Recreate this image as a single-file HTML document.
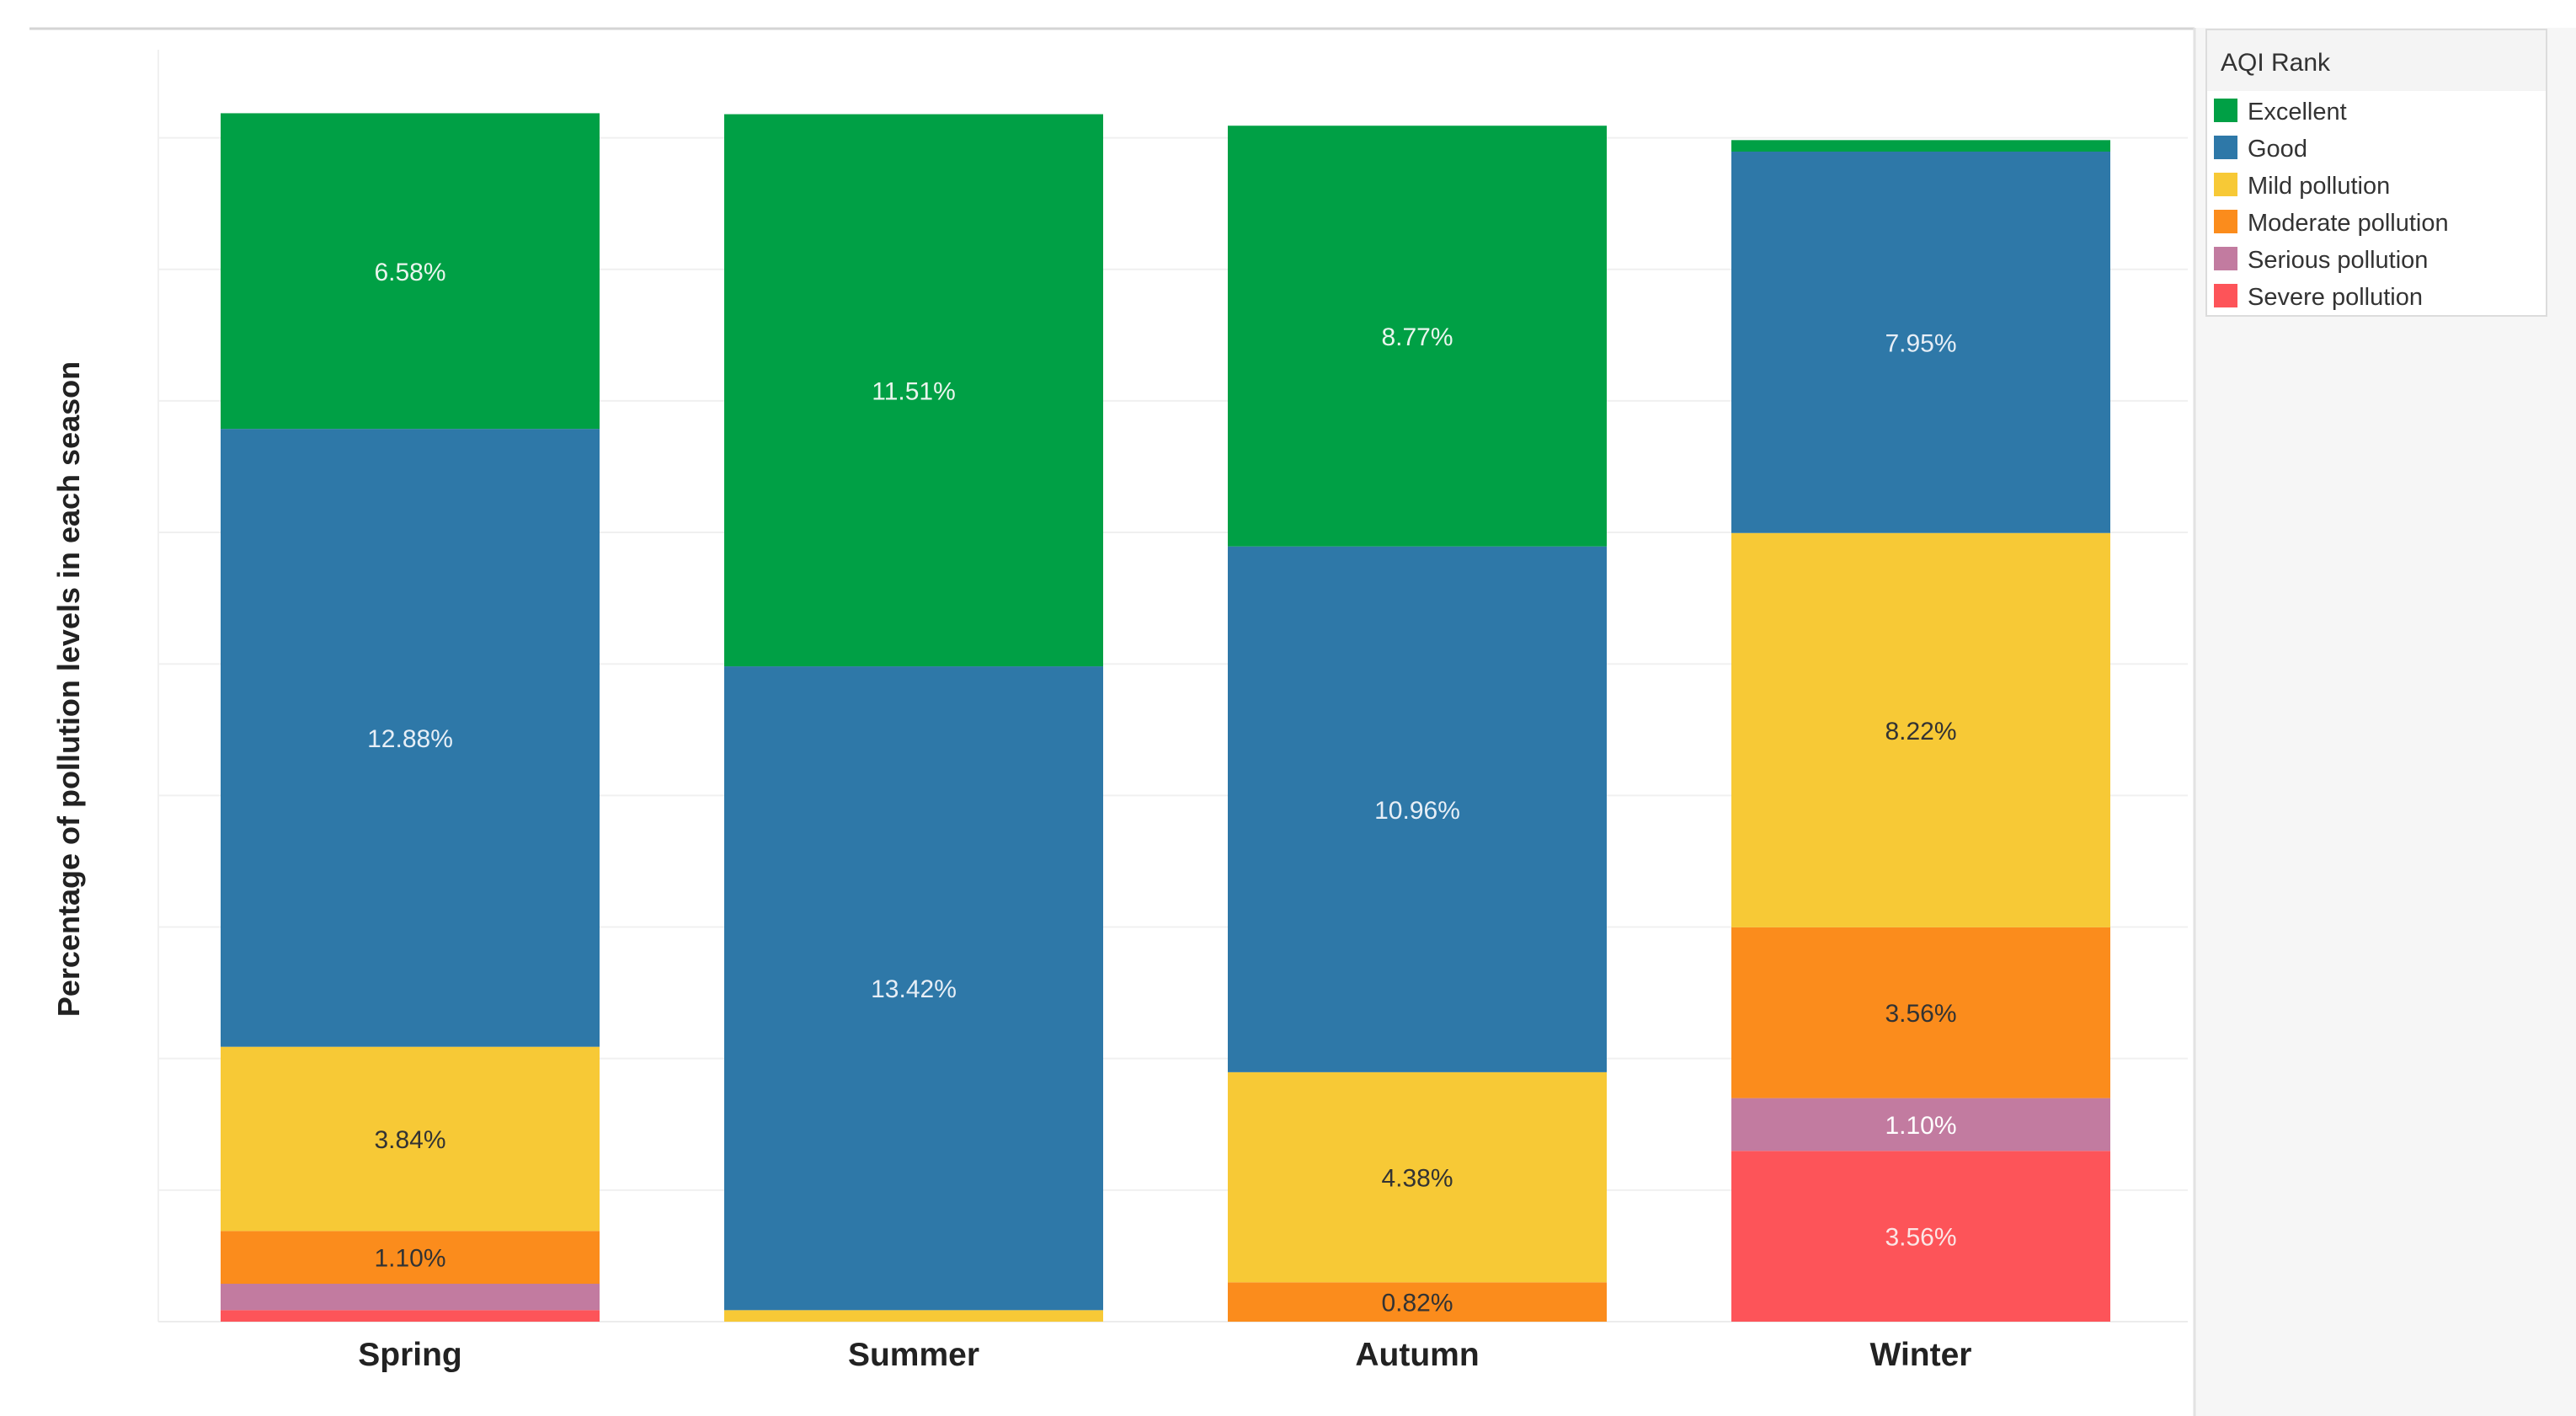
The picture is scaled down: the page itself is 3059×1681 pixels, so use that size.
<!DOCTYPE html>
<html><head><meta charset="utf-8"><style>
html,body{margin:0;padding:0;background:#fff;}
svg{display:block;font-family:"Liberation Sans","DejaVu Sans",sans-serif;}
</style></head><body>
<svg id="chart" width="3059" height="1681" viewBox="0 0 3059 1681">
  <rect x="2606" y="33" width="453" height="1648" fill="#f6f6f6"/>
  <line x1="35" y1="34" x2="2606" y2="34" stroke="#d4d4d4" stroke-width="3"/>
  <line x1="2606" y1="33" x2="2606" y2="1681" stroke="#e2e2e2" stroke-width="3"/>
  <line x1="188" y1="59" x2="188" y2="1569" stroke="#f0f0f0" stroke-width="2"/>
  <g id="grid"></g>
  <g id="bars"></g>
  <g id="xlabels"></g>
  <text x="0" y="0" transform="translate(94,818) rotate(-90)" text-anchor="middle" font-size="36" font-weight="bold" fill="#222">Percentage of pollution levels in each season</text>
  <g>
    <rect x="2620" y="35" width="404" height="340" fill="#fff" stroke="#dcdcdc" stroke-width="2"/>
    <rect x="2621" y="36" width="402" height="72" fill="#f4f4f4"/>
    <text x="2637" y="84" font-size="30" fill="#333">AQI Rank</text>
    <g id="legend-items"></g>
  </g>
</svg>
<script>
const categories = ["Spring","Summer","Autumn","Winter"];
const seriesNames = ["Excellent","Good","Mild pollution","Moderate pollution","Serious pollution","Severe pollution"];
const excellent = [6.58, 11.51, 8.77, 0.24];
const good = [12.88, 13.42, 10.96, 7.95];
const mild = [3.84, 0.24, 4.38, 8.22];
const moderate = [1.10, 0, 0.82, 3.56];
const serious = [0.55, 0, 0, 1.10];
const severe = [0.24, 0, 0, 3.56];
const gridStep = 2.742;

const colors = ["#00a045","#2e78a8","#f7c936","#fb8c1c","#c27ba0","#fd5459"];
const labelColors = ["#eaf5ee","#e6eef6","#333","#333","#fff","#fbe6e6"];
const NS = "http://www.w3.org/2000/svg";
const baseY = 1569, pxPer = 56.95, plotL = 188, plotR = 2598, band = 598, barW = 450;
function y(v){ return baseY - v*pxPer; }
function xc(i){ return plotL + band*i + band/2; }
function mk(tag, attrs, parent){ const e=document.createElementNS(NS,tag); for(const k in attrs) e.setAttribute(k,attrs[k]); parent.appendChild(e); return e; }

const grid = document.getElementById('grid');
for(let g=gridStep; y(g) > 100; g+=gridStep){
  const l = mk('line',{x1:plotL,x2:plotR,y1:y(g),y2:y(g),stroke:'#f0f0f0','stroke-width':2},grid);
  
  
}
const bl = mk('line',{x1:plotL,x2:plotR,y1:baseY,y2:baseY,stroke:'#ececec','stroke-width':2},grid);



const series = [excellent, good, mild, moderate, serious, severe];
const bars = document.getElementById('bars');
categories.forEach((c,i)=>{
  let cum = 0;
  for(let s=series.length-1; s>=0; s--){
    const v = series[s][i];
    if(v<=0) continue;
    const r = mk('rect',{x:xc(i)-barW/2,y:y(cum+v),width:barW,height:v*pxPer,fill:colors[s]},bars);
    
    
    if(v>=0.8){
      const t = mk('text',{x:xc(i),y:y(cum+v/2)+11,'text-anchor':'middle','font-size':30,fill:labelColors[s]},bars);
      t.textContent = v.toFixed(2)+'%';
      
      
    }
    cum += v;
  }
});
const xl = document.getElementById('xlabels');
categories.forEach((c,i)=>{
  const t = mk('text',{x:xc(i),y:1621,'text-anchor':'middle','font-size':39,'font-weight':'bold',fill:'#222'},xl);
  t.textContent = c;
  
  
});
const li = document.getElementById('legend-items');
seriesNames.forEach((n,k)=>{
  const cy = 131 + k*44;
  const r = mk('rect',{x:2629,y:cy-14,width:28,height:28,fill:colors[k]},li);
  
  
  const t = mk('text',{x:2669,y:cy+11,'font-size':29,fill:'#333'},li);
  t.textContent = n;
  
  
});
</script>
</body></html>
